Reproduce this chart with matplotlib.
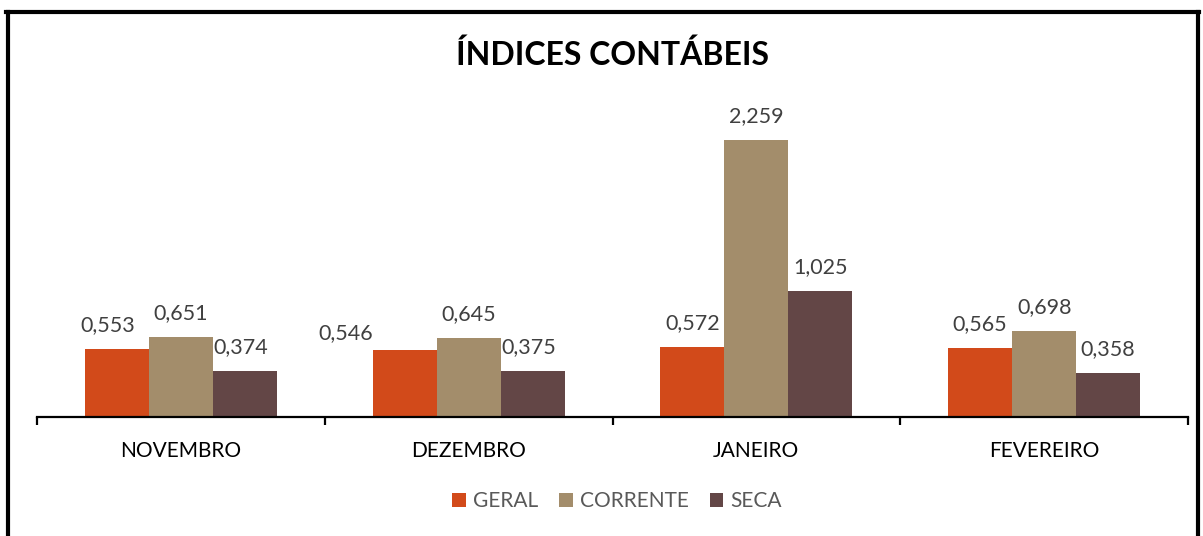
import numpy as np
import matplotlib.pyplot as plt
from matplotlib.lines import Line2D

# data to plot
meses = ['NOVEMBRO', 'DEZEMBRO', 'JANEIRO', 'FEVEREIRO']
geral = [0.553, 0.546, 0.572, 0.565]
corrente = [0.651, 0.645, 2.259, 0.698]
seca = [0.374, 0.375, 1.025, 0.358]

series = ['GERAL', 'CORRENTE', 'SECA']
cores = ['#D24A1A', '#A38D6B', '#634646']

plt.rcParams['font.family'] = ['Lato', 'DejaVu Sans']

fig = plt.figure(figsize=(12.03, 5.36), dpi=100)
ax = fig.add_axes([37 / 1203, 1 - 417 / 536, 1151 / 1203, 317 / 536])

index = np.arange(len(meses))
bar_width = 0.667 / 3

# label nudges in pixels (Excel moved a few labels sideways)
nudge = {(0, 0): (-9, 0), (0, 2): (-4, 0), (1, 0): (-59, -7), (1, 2): (-4, 0)}

for s, (vals, cor) in enumerate(zip([geral, corrente, seca], cores)):
    xs = index + (s - 1) * bar_width
    ax.bar(xs, vals, bar_width, color=cor, label=series[s])
    for g, (x, v) in enumerate(zip(xs, vals)):
        dx, dy = nudge.get((g, s), (0, 0))
        ax.annotate(f'{v:.3f}'.replace('.', ','), (x, v),
                    xytext=(dx * 0.72, (24 + dy) * 0.72), textcoords='offset points',
                    ha='center', va='center', fontsize=15.5, color='#404040')

ax.set_xlim(-0.5, 3.5)
ax.set_ylim(0, 317 / 122.6)
for side in ['top', 'right', 'left']:
    ax.spines[side].set_visible(False)
ax.spines['bottom'].set_linewidth(1.6)
ax.set_yticks([])
ax.set_xticks(np.arange(-0.5, 4, 1))
ax.set_xticklabels([])
ax.tick_params(axis='x', length=6, width=1.6, direction='out')
ax.set_xticks(index, minor=True)
ax.set_xticklabels(meses, minor=True, fontsize=15, color='#000000')
ax.tick_params(axis='x', which='minor', length=0, pad=17)

fig.text(613 / 1203, 1 - 55 / 536, 'ÍNDICES CONTÁBEIS', ha='center', va='center',
         fontsize=23, fontweight='bold', color='#000000')

leg = fig.legend(loc='center', bbox_to_anchor=(617 / 1203, 1 - 501 / 536), ncol=3,
                 frameon=False, fontsize=15, handlelength=0.65, handleheight=0.65,
                 handletextpad=0.35, columnspacing=1.0)
for t in leg.get_texts():
    t.set_color('#595959')

# outer border
lw = 3
fig.add_artist(Line2D([7.5 / 1203, 7.5 / 1203], [0, 1 - 11.5 / 536], color='black', lw=lw))
fig.add_artist(Line2D([1197.5 / 1203, 1197.5 / 1203], [0, 1 - 11.5 / 536], color='black', lw=lw))
fig.add_artist(Line2D([6 / 1203, 1199 / 1203], [1 - 11.5 / 536, 1 - 11.5 / 536], color='black', lw=lw))

fig.savefig('out.png', dpi=100)
